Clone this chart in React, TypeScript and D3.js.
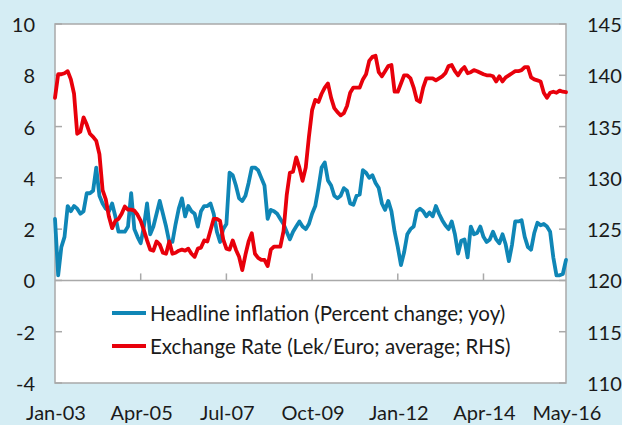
import React, { useRef, useEffect } from 'react'
import * as d3 from 'd3'

// Headline inflation, percent change yoy, monthly from Jan-03
const inflation = [
  2.4, 0.2, 1.3, 1.7, 2.9, 2.7, 2.9, 2.8, 2.6, 2.7,
  3.4, 3.4, 3.5, 4.4, 3.3, 3.0, 2.8, 2.7, 3.0, 2.5,
  1.9, 1.9, 1.9, 2.1, 3.4, 2.0, 1.7, 1.45, 2.1, 3.0,
  1.8, 2.1, 2.6, 3.1, 2.6, 2.1, 1.5, 1.5, 2.2, 2.8,
  3.2, 2.5, 2.9, 2.7, 2.6, 2.1, 2.7, 2.9, 2.9, 3.0,
  2.6, 1.9, 1.5, 2.0, 2.2, 4.2, 4.1, 3.7, 3.2, 3.1,
  3.3, 3.8, 4.4, 4.4, 4.3, 4.0, 3.7, 2.4, 2.75, 2.7,
  2.6, 2.4, 2.2, 1.9, 1.6, 1.9, 2.1, 2.3, 2.1, 2.0,
  2.2, 2.6, 2.9, 3.6, 4.4, 4.6, 3.9, 3.7, 3.3, 3.2,
  3.3, 3.6, 3.5, 3.0, 2.95, 3.3, 3.35, 4.3, 4.2, 4.0,
  4.1, 3.8, 3.6, 3.0, 2.75, 3.1, 2.7, 1.9, 1.3, 0.6,
  1.1, 1.8, 2.0, 2.1, 2.7, 2.8, 2.7, 2.5, 2.65, 2.5,
  2.9, 2.6, 2.35, 2.15, 2.0, 2.3, 1.8, 1.05, 1.55, 1.6,
  0.9, 2.1, 1.8, 1.85, 2.1, 1.7, 1.5, 1.6, 1.9, 1.6,
  1.45, 1.8, 1.4, 0.75, 1.4, 2.3, 2.3, 2.35, 1.7, 1.3,
  1.2, 1.85, 2.25, 2.15, 2.2, 2.1, 1.9, 0.9, 0.2, 0.2,
  0.25, 0.8
]

// Exchange rate, Lek/Euro average (RHS)
const exchangeRate = [
  137.8, 140.1, 140.1, 140.2, 140.4, 139.6, 138.2, 134.3, 134.5, 135.9,
  135.2, 134.3, 134.0, 133.6, 132.3, 128.8, 127.9, 126.2, 125.1, 125.8,
  126.0, 126.5, 127.2, 126.9, 126.9, 126.8, 126.4, 125.8, 124.9, 123.9,
  123.0, 122.9, 123.8, 123.5, 122.7, 122.6, 123.8, 122.6, 122.7, 122.9,
  123.0, 122.9, 123.1, 122.6, 122.3, 123.1, 123.2, 123.9, 123.8, 124.9,
  126.0, 126.0, 125.8, 124.0, 123.1, 123.0, 123.9, 123.0, 122.3, 121.0,
  122.5, 123.8, 124.6, 122.6, 122.2, 122.0, 122.0, 121.4, 123.0, 123.3,
  123.3, 123.3, 124.8, 128.3, 130.5, 130.6, 132.0, 131.0, 129.7, 131.0,
  134.0, 136.6, 137.6, 137.4, 138.2, 138.8, 139.2, 137.8, 136.8, 136.4,
  136.1, 136.3, 137.0, 138.3, 138.8, 138.8, 138.8, 139.6, 140.1, 141.4,
  141.8, 141.9, 140.3, 139.9, 140.4, 140.9, 141.0, 138.4, 138.4, 139.2,
  140.0, 140.0, 139.7, 138.8, 137.6, 137.4, 138.8, 139.7, 139.7, 139.7,
  139.5, 139.7, 139.9, 140.2, 140.9, 141.0, 140.4, 140.0, 140.5, 140.8,
  140.2, 140.3, 140.5, 140.4, 140.25, 140.1, 140.0, 140.0, 139.9, 139.4,
  139.9, 139.4, 139.8, 140.0, 140.2, 140.4, 140.4, 140.5, 140.8, 140.8,
  139.8, 139.6, 139.5, 139.4, 138.3, 137.8, 138.3, 138.4, 138.3, 138.5,
  138.4, 138.35
]

const xTickLabels = ['Jan-03', 'Apr-05', 'Jul-07', 'Oct-09', 'Jan-12', 'Apr-14', 'May-16']
const xTickIndex = [0, 27, 54, 81, 108, 135, 161]
const leftTicks = [-4, -2, 0, 2, 4, 6, 8, 10]
const rightTicks = [110, 115, 120, 125, 130, 135, 140, 145]
const legendLabels = [
  'Headline inflation (Percent change; yoy)',
  'Exchange Rate (Lek/Euro; average; RHS)'
]

const BLUE = '#0f86b6'
const RED = '#e8000b'
const AXIS = '#a9a9a9'
const FONT = "Lato, 'Open Sans', sans-serif"

const App: React.FC = () => {
  const svgRef = useRef<SVGSVGElement>(null)
  const width = 622
  const height = 425

  useEffect(() => {
    if (!svgRef.current) return
    const svg = d3.select(svgRef.current)
    svg.selectAll('*').remove()

    const left = 55, right = 566, top = 24, bottom = 383

    const x = d3.scaleLinear().domain([0, inflation.length - 1]).range([left, right])
    const yL = d3.scaleLinear().domain([-4, 10]).range([bottom, top])
    const yR = d3.scaleLinear().domain([110, 145]).range([bottom, top])

    // background
    svg.append('rect').attr('width', width).attr('height', height).attr('fill', '#d5edf4')
    svg.append('rect')
      .attr('x', left).attr('y', top)
      .attr('width', right - left).attr('height', bottom - top)
      .attr('fill', '#fff')
      .attr('stroke', AXIS).attr('stroke-width', 1.5)

    // left ticks + labels
    leftTicks.forEach(t => {
      svg.append('line')
        .attr('x1', left).attr('x2', left + 7)
        .attr('y1', yL(t)).attr('y2', yL(t))
        .attr('stroke', AXIS).attr('stroke-width', 1.5)
      svg.append('text')
        .attr('x', 35).attr('y', yL(t))
        .attr('text-anchor', 'end').attr('dominant-baseline', 'central')
        .attr('font-family', FONT).attr('font-size', 20).attr('fill', '#1a1a1a')
        .text(t)
    })

    // right ticks + labels
    rightTicks.forEach(t => {
      svg.append('line')
        .attr('x1', right - 7).attr('x2', right)
        .attr('y1', yR(t)).attr('y2', yR(t))
        .attr('stroke', AXIS).attr('stroke-width', 1.5)
      svg.append('text')
        .attr('x', 587).attr('y', yR(t))
        .attr('text-anchor', 'start').attr('dominant-baseline', 'central')
        .attr('font-family', FONT).attr('font-size', 20).attr('fill', '#1a1a1a')
        .text(t)
    })

    // zero line with category ticks
    const y0 = yL(0)
    svg.append('line')
      .attr('x1', left).attr('x2', right).attr('y1', y0).attr('y2', y0)
      .attr('stroke', AXIS).attr('stroke-width', 1.5)
    xTickIndex.slice(1, -1).forEach(i => {
      svg.append('line')
        .attr('x1', x(i)).attr('x2', x(i)).attr('y1', y0).attr('y2', y0 - 7)
        .attr('stroke', AXIS).attr('stroke-width', 1.5)
    })

    // x labels
    xTickLabels.forEach((lab, k) => {
      svg.append('text')
        .attr('x', x(xTickIndex[k]) + 1).attr('y', 420)
        .attr('text-anchor', 'middle')
        .attr('font-family', FONT).attr('font-size', 20).attr('fill', '#1a1a1a')
        .text(lab)
    })

    // lines
    const lineL = d3.line<number>().x((_, i) => x(i)).y(d => yL(d))
    const lineR = d3.line<number>().x((_, i) => x(i)).y(d => yR(d))

    svg.append('path')
      .datum(inflation)
      .attr('d', lineL)
      .attr('fill', 'none').attr('stroke', BLUE).attr('stroke-width', 3.8)
      .attr('stroke-linejoin', 'round').attr('stroke-linecap', 'round')

    svg.append('path')
      .datum(exchangeRate)
      .attr('d', lineR)
      .attr('fill', 'none').attr('stroke', RED).attr('stroke-width', 3.8)
      .attr('stroke-linejoin', 'round').attr('stroke-linecap', 'round')

    // legend
    const legend = svg.append('g').attr('transform', 'translate(112, 313)')
    legendLabels.forEach((lab, i) => {
      const g = legend.append('g').attr('transform', `translate(0, ${i * 33})`)
      g.append('line')
        .attr('x1', 0).attr('x2', 34).attr('y1', 0).attr('y2', 0)
        .attr('stroke', i === 0 ? BLUE : RED).attr('stroke-width', 3.8)
      g.append('text')
        .attr('x', 38).attr('y', 0)
        .attr('dominant-baseline', 'central')
        .attr('font-family', FONT).attr('font-size', 20.5).attr('fill', '#1a1a1a')
        .text(lab)
    })
  }, [])

  return (
    <svg
      ref={svgRef}
      width={width}
      height={height}
      style={{ position: 'absolute', left: 0, top: 0, display: 'block' }}
    />
  )
}

export default App
